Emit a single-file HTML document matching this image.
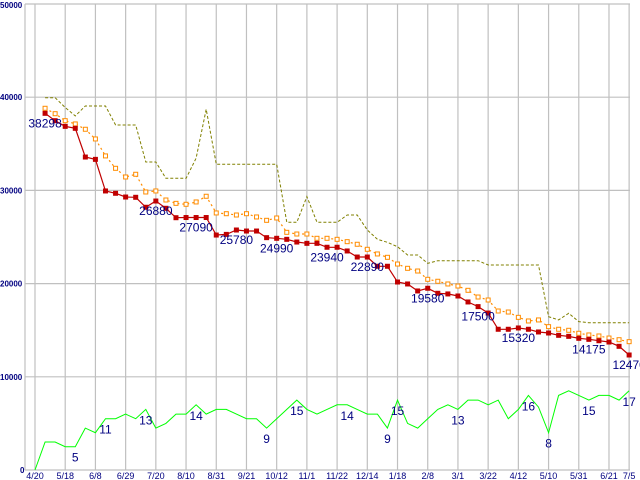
<!DOCTYPE html>
<html><head><meta charset="utf-8"><style>
body{margin:0;background:#fff;width:640px;height:480px;overflow:hidden}
svg{display:block;font-family:"Liberation Sans",sans-serif}
</style></head><body>
<svg id="chart" width="640" height="480" viewBox="0 0 640 480"></svg>
<script>
const xLabels=["4/20","5/18","6/8","6/29","7/20","8/10","8/31","9/21","10/12","11/1","11/22","12/14","1/18","2/8","3/1","3/22","4/12","5/10","5/31","6/21","7/5"];
const yTicks=[0,10000,20000,30000,40000,50000];
const redSeries=[null,38270,37480,36870,36660,33580,33330,29940,29690,29290,29260,28190,28860,28080,27070,27090,27090,27090,25210,25280,25750,25640,25640,24930,24860,24750,24460,24320,24320,23900,23900,23500,22850,22850,21860,21860,20170,19960,19210,19500,18960,18890,18670,18030,17530,16840,15100,15100,15240,15100,14810,14700,14450,14340,14130,14020,13870,13730,13270,12340];
const orangeSeries=[null,38810,38230,37480,37130,36560,35520,33700,32370,31440,31730,29830,29940,28970,28610,28510,28760,29370,27580,27500,27360,27500,27150,26790,27040,25500,25320,25320,24860,24860,24750,24500,24220,23680,23180,22820,22100,21640,21350,20460,20250,19960,19740,19280,18560,18240,17060,16950,16380,15990,16100,15380,15100,14990,14670,14490,14380,14160,13980,13770];
const oliveSeries=[null,39950,39950,38900,37990,39060,39060,39060,37020,37020,37020,33050,33050,31300,31300,31300,33450,38700,32800,32800,32800,32800,32800,32800,32800,26580,26580,29330,26580,26580,26580,27360,27360,25750,24750,24430,23960,23070,23070,22180,22460,22460,22460,22460,22460,22000,22000,22000,22000,22000,22000,16450,16100,16810,15920,15810,15810,15810,15810,15810];
const greenCounts=[0,6,6,5,5,9,8,11,11,12,11,13,9,10,12,12,14,12,13,13,12,11,11,9,11,13,15,13,12,13,14,14,13,12,12,9,15,10,9,11,13,14,13,15,15,14,15,11,13,16,13.5,8,16,17,16,15,16,16,15,17];
const redLabelIdx=[1,12,16,20,24,29,33,39,44,48,55,59];
const redLabelText=["38298","26880","27090","25780","24990","23940","22890","19580","17500","15320","14175","12470"];
const greenLabelIdx=[4,7,11,16,23,26,31,35,36,42,49,51,55,59];
const greenLabelText=["5","11","13","14","9","15","14","9","15","13","16","8","15","17"];

const svg=document.getElementById('chart');
const NS='http://www.w3.org/2000/svg';
const X0=35,STEP=10.07,Y0=470,YTOP=4,YMAX=50000;
function xs(i){return X0+i*STEP;}
function ys(v){return Y0-(Y0-YTOP)*v/YMAX;}
function ysG(c){return ys(c*500);}
function mk(tag,attrs,parent){const e=document.createElementNS(NS,tag);for(const k in attrs)e.setAttribute(k,attrs[k]);(parent||svg).appendChild(e);return e;}

// grid
const grid=mk('g',{});


yTicks.forEach(v=>{
  const l=mk('line',{x1:25,x2:630,y1:ys(v),y2:ys(v),stroke:'#c0c0c0','stroke-width':1.2},grid);
  
  
  const t=mk('text',{x:v===0?20:0,y:ys(v)+(v===50000?4:3),'font-size':8,'font-weight':'bold',fill:'#000080'});
  t.textContent=v;
  
  
});
const la=mk('line',{x1:25,x2:25,y1:YTOP,y2:Y0,stroke:'#c0c0c0','stroke-width':1.2},grid);


xLabels.forEach((s,k)=>{
  const i=k<20?k*3:59;
  const x=xs(i);
  const l=mk('line',{x1:x,x2:x,y1:YTOP,y2:Y0,stroke:'#c0c0c0','stroke-width':1.2},grid);
  
  
  const t=mk('text',{x:x,y:479,'font-size':9,fill:'#000080','text-anchor':'middle'});
  t.textContent=s;
  
  
});

function pts(arr,f){const p=[];arr.forEach((v,i)=>{if(v!==null)p.push(xs(i).toFixed(1)+','+f(v).toFixed(1));});return p.join(' ');}

const olive=mk('polyline',{points:pts(oliveSeries,ys),fill:'none',stroke:'#808000','stroke-width':1,'stroke-dasharray':'3,2'});



const orange=mk('polyline',{points:pts(orangeSeries,ys),fill:'none',stroke:'#ff8c00','stroke-width':1.2,'stroke-dasharray':'2,3'});


orangeSeries.forEach((v,i)=>{if(v===null)return;
  const r=mk('rect',{x:xs(i)-2,y:ys(v)-2,width:4,height:4,fill:'#fff',stroke:'#ff8c00','stroke-width':1});
  
  
});

const red=mk('polyline',{points:pts(redSeries,ys),fill:'none',stroke:'#c00000','stroke-width':1.2});


redSeries.forEach((v,i)=>{if(v===null)return;
  const r=mk('rect',{x:xs(i)-2.5,y:ys(v)-2.5,width:5,height:5,fill:'#c00000'});
  
  
});

const green=mk('polyline',{points:pts(greenCounts,ysG),fill:'none',stroke:'#00ff00','stroke-width':1});



redLabelIdx.forEach((i,k)=>{
  const t=mk('text',{x:xs(i),y:ys(redSeries[i])+14,'font-size':12,fill:'#000080','text-anchor':'middle'});
  t.textContent=redLabelText[k];
  
  
});
greenLabelIdx.forEach((i,k)=>{
  const t=mk('text',{x:xs(i),y:ysG(greenCounts[i])+15,'font-size':12,fill:'#000080','text-anchor':'middle'});
  t.textContent=greenLabelText[k];
  
  
});
</script>
</body></html>
